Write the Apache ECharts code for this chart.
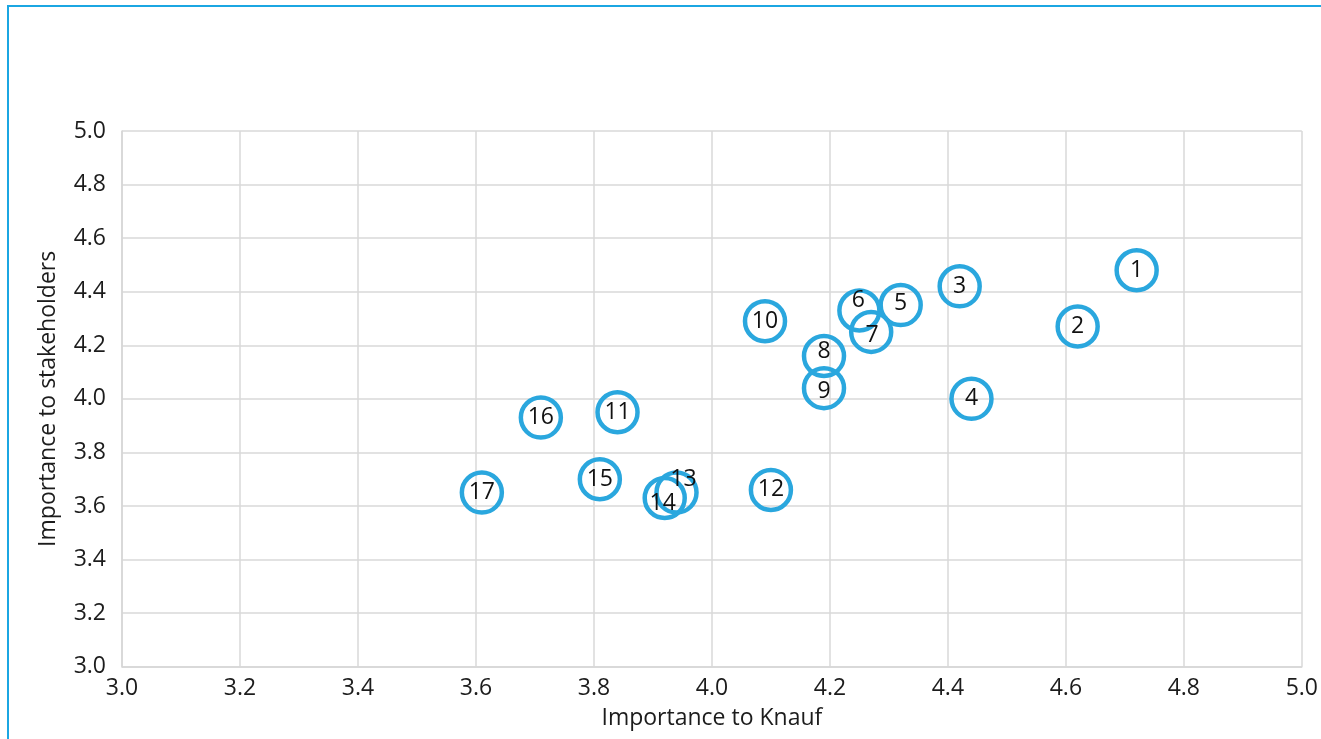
<!DOCTYPE html>
<html>
<head>
<meta charset="utf-8">
<script src="https://cdn.jsdelivr.net/npm/echarts@6/dist/echarts.min.js"></script>
<style>
  html, body { margin: 0; padding: 0; background: #fff; }
  #wrap { position: relative; width: 1321px; height: 739px; overflow: hidden; }
  #frame { position: absolute; left: 7px; top: 5px; width: 1330px; height: 760px;
           border-top: 2px solid #1ba6e2; border-left: 2px solid #1ba6e2; pointer-events: none; }
  #chart { position: absolute; left: 0; top: 0; width: 1321px; height: 739px; }
</style>
</head>
<body>
<div id="wrap">
  <div id="chart"></div>
  <div id="frame"></div>
</div>
<script>
// ---- data ----
const topicLabels = ['1','2','3','4','5','6','7','8','9','10','11','12','13','14','15','16','17'];
const importanceToKnauf = [4.72, 4.62, 4.42, 4.44, 4.32, 4.25, 4.27, 4.19, 4.19, 4.09, 3.84, 4.10, 3.94, 3.92, 3.81, 3.71, 3.61];
const importanceToStakeholders = [4.48, 4.27, 4.42, 4.00, 4.35, 4.33, 4.25, 4.16, 4.04, 4.29, 3.95, 3.66, 3.65, 3.63, 3.70, 3.93, 3.65];
const xTickValues = [3.0, 3.2, 3.4, 3.6, 3.8, 4.0, 4.2, 4.4, 4.6, 4.8, 5.0];
const yTickValues = [3.0, 3.2, 3.4, 3.6, 3.8, 4.0, 4.2, 4.4, 4.6, 4.8, 5.0];

// label placement tweaks (style only)
const labelOffsets = { '5': [0, -2], '6': [-1, -10], '7': [1, 4], '8': [0, -5], '9': [0, 3], '13': [7, -13], '14': [-2, 5] };

const FONT = 'Open Sans';
const BLUE = '#2aa7de';
const TEXT = '#1c1c1c';

const seriesData = topicLabels.map((lab, i) => {
  const item = { value: [importanceToKnauf[i], importanceToStakeholders[i]], name: lab };
  if (labelOffsets[lab]) item.label = { offset: labelOffsets[lab] };
  return item;
});

const chart = echarts.init(document.getElementById('chart'), null, { renderer: 'canvas' });
chart.setOption({
  animation: false,
  backgroundColor: '#ffffff',
  grid: { left: 122, top: 131, width: 1183.5, height: 535.7, containLabel: false },
  xAxis: {
    type: 'value', min: xTickValues[0], max: xTickValues[xTickValues.length - 1], interval: 0.2,
    name: 'Importance to Knauf', nameLocation: 'middle', nameGap: 40,
    nameTextStyle: { fontFamily: FONT, fontSize: 23, color: TEXT },
    axisLine: { show: true, lineStyle: { color: '#d6d6d6', width: 1.5 } },
    axisTick: { show: false },
    axisLabel: { fontFamily: FONT, fontSize: 23, color: TEXT, margin: 10,
                 formatter: v => v.toFixed(1) },
    splitLine: { show: true, lineStyle: { color: '#d9d9d9', width: 1.5 } }
  },
  yAxis: {
    type: 'value', min: yTickValues[0], max: yTickValues[yTickValues.length - 1], interval: 0.2,
    name: 'Importance to stakeholders', nameLocation: 'middle', nameGap: 62, nameRotate: 90,
    nameTextStyle: { fontFamily: FONT, fontSize: 23, color: TEXT },
    axisLine: { show: true, lineStyle: { color: '#d6d6d6', width: 1.5 } },
    axisTick: { show: false },
    axisLabel: { fontFamily: FONT, fontSize: 23, color: TEXT, margin: 16,
                 formatter: v => v.toFixed(1) },
    splitLine: { show: true, lineStyle: { color: '#d9d9d9', width: 1.5 } }
  },
  series: [{
    type: 'scatter',
    data: seriesData,
    symbol: 'circle',
    symbolSize: 40,
    itemStyle: { color: 'rgba(255,255,255,0)', borderColor: BLUE, borderWidth: 4.5, opacity: 1 },
    label: {
      show: true, position: 'inside', formatter: p => p.name,
      fontFamily: FONT, fontSize: 23, color: '#111111'
    },
    emphasis: { disabled: true }
  }]
});
</script>
</body>
</html>
